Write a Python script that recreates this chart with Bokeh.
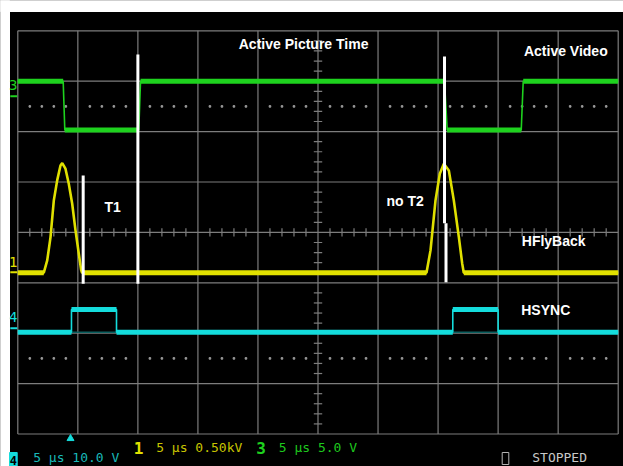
import numpy as np
from bokeh.plotting import figure
from bokeh.models import Range1d
from bokeh.core.properties import value
from bokeh.embed import file_html
from bokeh.resources import INLINE

# ---- data (x in divisions of 5 us, y in vertical divisions from centre) ----
ch3_x = [0.0, 0.756, 0.783, 2.015, 2.044, 7.107, 7.152, 8.385, 8.418, 10.0]
ch3_y = [3.0, 3.0, 2.03, 2.03, 3.0, 3.0, 2.03, 2.03, 3.0, 3.0]

ch1_x = [0.0, 0.433, 0.490, 0.545, 0.600, 0.656, 0.711, 0.740, 0.794, 0.849,
         0.906, 0.961, 1.016, 1.056, 1.070, 6.807, 6.874, 6.957, 7.029, 7.096,
         7.179, 7.262, 7.346, 7.402, 7.428, 10.0]
ch1_y = [-0.80, -0.80, -0.556, -0.093, 0.635, 1.032, 1.329, 1.375, 1.264, 0.966,
         0.569, 0.040, -0.423, -0.754, -0.80, -0.80, -0.357, 0.635, 1.165, 1.363,
         1.23, 0.635, -0.093, -0.62, -0.80, -0.80]

ch4_x = [0.0, 0.894, 0.894, 1.644, 1.644, 7.245, 7.245, 8.0, 8.0, 10.0]
ch4_y = [-1.98, -1.98, -1.53, -1.53, -1.98, -1.98, -1.53, -1.53, -1.98, -1.98]

# white cursor marks drawn on the capture
mark_x0 = [2.0, 1.089, 7.107, 7.132]
mark_y0 = [3.53, 1.13, 3.49, 0.18]
mark_y1 = [-1.02, -1.02, 0.18, -0.99]

labels = ["Active Picture Time", "Active Video", "T1", "no T2", "HFlyBack", "HSYNC"]
label_x = [3.68, 8.43, 1.444, 6.141, 8.394, 8.385]
label_y = [3.74, 3.59, 0.496, 0.615, -0.18, -1.53]

GREEN = "#1ed21e"
YELLOW = "#e1e100"
CYAN = "#14dcdc"
GRID = "#7d7d7d"

W, H = 623, 466
pxx = 60.04
pxy = 50.4
gl, gt = 17.3, 30.3
x0 = -gl / pxx
x1 = (W - gl) / pxx
y1 = 4 + gt / pxy
y0 = 4 - (H - gt) / pxy

p = figure(width=W, height=H, output_backend="svg", toolbar_location=None,
           x_range=Range1d(x0, x1), y_range=Range1d(y0, y1),
           x_axis_type=None, y_axis_type=None, min_border=0)
p.background_fill_color = "black"
p.border_fill_color = "black"
p.outline_line_color = None
p.grid.visible = False

# white page edge round the capture
p.quad(left=[x0], right=[x1], top=[y1], bottom=[y1 - 11 / pxy], color="white")
p.quad(left=[x0], right=[x0 + 9 / pxx], top=[y1], bottom=[y0], color="white")

# graticule
gx = np.arange(0, 11)
p.segment(x0=gx, y0=[-4] * 11, x1=gx, y1=[4] * 11, line_color=GRID, line_width=1.2)
gy = np.arange(-4, 5)
p.segment(x0=[0] * 9, y0=gy, x1=[10] * 9, y1=gy, line_color=GRID, line_width=1.2)

# centre-axis minor ticks
tx = np.array([v for v in np.arange(0.2, 10, 0.2) if abs(v - round(v)) > 0.05])
p.segment(x0=tx, y0=-0.08, x1=tx, y1=0.08, line_color=GRID, line_width=1.2)
ty = np.array([v for v in np.arange(-3.8, 4, 0.2) if abs(v - round(v)) > 0.05])
p.segment(x0=4.93, y0=ty, x1=5.07, y1=ty, line_color=GRID, line_width=1.2)
# dotted lines
for lev in (2.5, -2.5):
    p.scatter(x=tx, y=[lev] * len(tx), size=1.6, marker="square", color="#9a9a9a")


def draw_trace(xs, ys, color, thin=1.6, thick=5):
    p.line(xs, ys, line_color=color, line_width=thin)
    hx0, hx1, hy = [], [], []
    for i in range(len(xs) - 1):
        if ys[i] == ys[i + 1]:
            hx0.append(xs[i]); hx1.append(xs[i + 1]); hy.append(ys[i])
    p.segment(x0=hx0, y0=hy, x1=hx1, y1=hy, line_color=color, line_width=thick)


# persistence ghost of ch4 baseline
p.segment(x0=[0], y0=[ch4_y[0]], x1=[10], y1=[ch4_y[0]], line_color="#0b5f5f", line_width=1.5)

draw_trace(ch3_x, ch3_y, GREEN)
draw_trace(ch4_x, ch4_y, CYAN)
p.line(ch1_x, ch1_y, line_color=YELLOW, line_width=2.6)
draw_trace(ch1_x, ch1_y, YELLOW, thin=0.1, thick=5)

# white markers
p.segment(x0=mark_x0, y0=mark_y0, x1=mark_x0, y1=mark_y1, line_color="white", line_width=3)

# annotation labels
p.text(x=label_x, y=label_y, text=labels, text_color="white",
       text_font=value("Liberation Sans"), text_font_style="bold",
       text_font_size="14px", text_baseline="middle", text_align="left")

# ground markers on the left
p.text(x=[-0.075, -0.075, -0.075], y=[2.92, -0.59, -1.68], text=["3", "1", "4"],
       text_color=[GREEN, YELLOW, CYAN], text_font=value("DejaVu Sans Mono"),
       text_font_size="14px", text_align="center", text_baseline="middle")
p.segment(x0=[-0.125] * 3, x1=[-0.01] * 3, y0=[2.70, -0.79, -1.90], y1=[2.70, -0.79, -1.90],
          line_color=[GREEN, YELLOW, CYAN], line_width=2)

# trigger marker
p.scatter(x=[0.878], y=[-4.09], marker="triangle", size=7, color=CYAN)

# status line
mono = value("DejaVu Sans Mono")
p.text(x=[1.932, 3.971], y=[-4.27, -4.27], text=["1", "3"], text_color=[YELLOW, GREEN],
       text_font=mono, text_font_style="bold", text_font_size="16px",
       text_baseline="middle", text_align="left")
p.text(x=[2.305, 4.347], y=[-4.27, -4.27], text=["5 μs 0.50kV", "5 μs 5.0 V"],
       text_color=["#c8c400", "#1ec81e"], text_font=mono, text_font_size="13px",
       text_baseline="middle", text_align="left")

yb = y0 + 2 / pxy          # bottom row baseline, kept inside the window
ybt = yb + 12 / pxy
p.quad(left=[-0.138], right=[-0.01], top=[ybt], bottom=[y0], color=CYAN)
p.text(x=[-0.074], y=[yb], text=["4"], text_color="black", text_font=mono,
       text_font_style="bold", text_font_size="12px", text_baseline="bottom", text_align="center")
p.text(x=[0.256], y=[yb], text=["5 μs 10.0 V"], text_color="#18b8b8",
       text_font=mono, text_font_size="13px", text_baseline="bottom", text_align="left")
p.quad(left=[8.068], right=[8.178], top=[ybt], bottom=[yb], fill_color=None,
       line_color="#b4b4b4", line_width=1)
p.text(x=[8.568], y=[yb], text=["STOPPED"], text_color="#c8c8c8",
       text_font=mono, text_font_size="13px", text_baseline="bottom", text_align="left")

open("out.html", "w").write(file_html(p, INLINE))
